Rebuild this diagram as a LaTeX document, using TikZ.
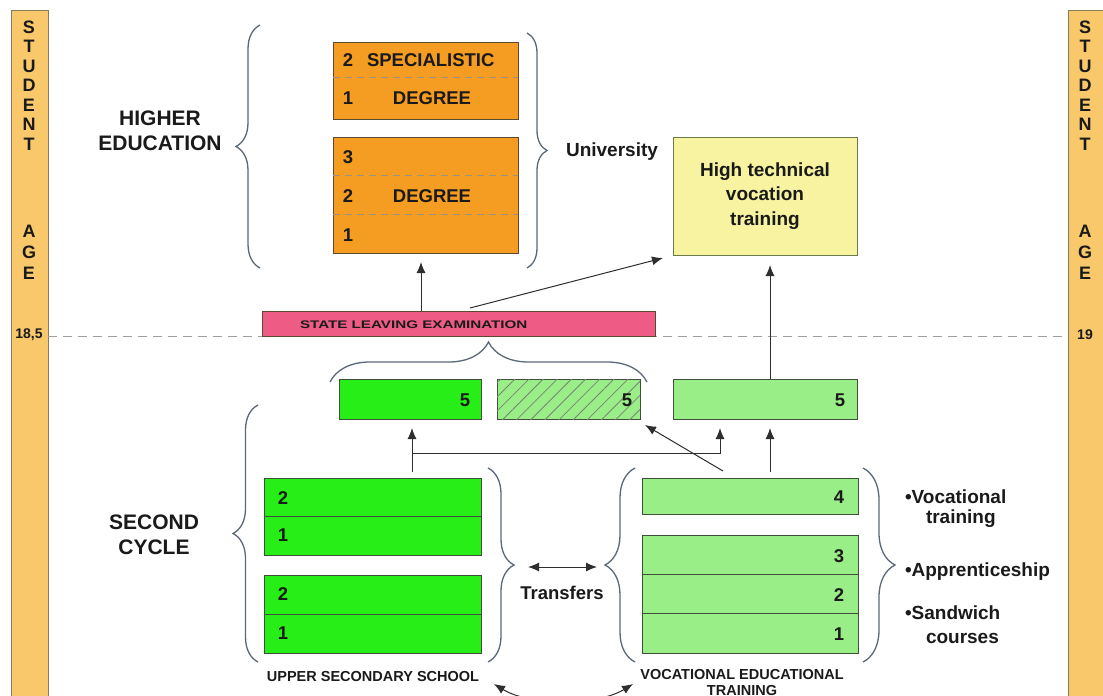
\documentclass[tikz,border=0pt]{standalone}
\usepackage{graphicx}
\usepackage{fontspec}
\setmainfont{Liberation Sans}
\usetikzlibrary{decorations.pathreplacing,patterns.meta,arrows.meta,calc}
\definecolor{agefill}{HTML}{F8C86A}
\definecolor{ageline}{HTML}{857A62}
\definecolor{orangefill}{HTML}{F49D22}
\definecolor{odraw}{HTML}{5A4A30}
\definecolor{yellowfill}{HTML}{F7F3A0}
\definecolor{ydraw}{HTML}{6B7A4A}
\definecolor{pinkfill}{HTML}{EE5C86}
\definecolor{brightgreen}{HTML}{27EE16}
\definecolor{lightgreen}{HTML}{99EE88}
\definecolor{boxline}{HTML}{3F4F3A}
\definecolor{bracecol}{HTML}{5A6878}
\definecolor{ink}{HTML}{1A1A1A}
\definecolor{arrowcol}{HTML}{2E2E2E}
\begin{document}
\begin{tikzpicture}[x=1pt,y=-1pt,
  lbl/.style={inner sep=0pt, outer sep=0pt, text=ink, font=\bfseries\fontsize{18.5}{22}\selectfont},
  agetxt/.style={lbl, font=\bfseries\fontsize{18}{20}\selectfont},
  head/.style={lbl, align=center, font=\bfseries\fontsize{21}{25}\selectfont},
  txt/.style={lbl, font=\bfseries\fontsize{19}{24.5}\selectfont},
  small/.style={lbl, font=\bfseries\fontsize{14.5}{16}\selectfont},
  box/.style={draw=boxline, line width=0.9pt, inner sep=0pt, outer sep=0pt},
  agebar/.style={box, draw=ageline, fill=agefill},
  obox/.style={box, draw=odraw, fill=orangefill},
  gbright/.style={box, fill=brightgreen},
  glight/.style={box, fill=lightgreen},
  hatched/.style={glight, postaction={pattern={Lines[angle=45,distance=10pt,line width=0.8pt]}, pattern color=boxline!70}},
  odiv/.style={draw=odraw!60, dash pattern=on 7pt off 5pt, line width=0.8pt},
  gdiv/.style={draw=boxline, line width=0.9pt},
  brc/.style={decorate, draw=bracecol, line width=1.3pt},
  arr/.style={draw=arrowcol, line width=1pt, -{Latex[length=11pt,width=9pt]}},
  darr/.style={draw=arrowcol, line width=1pt, {Latex[length=11pt,width=9pt]}-{Latex[length=11pt,width=9pt]}},
  guide/.style={draw=gray!75, line width=0.8pt, dash pattern=on 9pt off 6pt},
]
\useasboundingbox (0,0) rectangle (1103,696);
\clip (0,0) rectangle (1103,696);
\fill[white] (0,0) rectangle (1103,696);

% age bars
\node[agebar, minimum width=37pt, minimum height=700pt, anchor=north west] (lbar) at (11,10) {};
\node[agebar, minimum width=36pt, minimum height=700pt, anchor=north west] (rbar) at (1068,10) {};
\foreach \l [count=\i] in {S,T,U,D,E,N,T} {
  \node[agetxt] (ls\i) at (29, 7.5+19.5*\i) {\l};
  \node[agetxt] (rs\i) at (1085, 7.5+19.5*\i) {\l};
}
\foreach \l [count=\i] in {A,G,E} {
  \node[agetxt] (la\i) at (29, 210+21*\i) {\l};
  \node[agetxt] (ra\i) at (1085, 210+21*\i) {\l};
}
\node[lbl, font=\bfseries\fontsize{14}{16}\selectfont] (l185) at (29,335) {18,5};
\node[lbl, font=\bfseries\fontsize{14}{16}\selectfont] (r19) at (1085,335) {19};

% higher education
\node[head] (he) at (160,131) {HIGHER\\EDUCATION};
\node[obox, minimum width=185pt, minimum height=77pt] (spec) at (425.5,80.5) {};
\node[obox, minimum width=185pt, minimum height=116pt] (deg) at (425.5,195) {};
\draw[odiv] ($(spec.west)+(0,-3)$) -- ($(spec.east)+(0,-3)$);
\draw[odiv] ($(deg.north west)!1/3!(deg.south west)$) -- ($(deg.north east)!1/3!(deg.south east)$);
\draw[odiv] ($(deg.north west)!2/3!(deg.south west)$) -- ($(deg.north east)!2/3!(deg.south east)$);
\node[lbl] (s2) at (348,60) {2};
\node[lbl, anchor=west] (st) at (367,60) {SPECIALISTIC};
\node[lbl] (s1) at (348,98) {1};
\node[lbl] (sd) at (432,98) {DEGREE};
\node[lbl] (d3) at (348,157) {3};
\node[lbl] (d2) at (348,196) {2};
\node[lbl] (dd) at (432,196) {DEGREE};
\node[lbl] (d1) at (348,235) {1};
\draw[brc, decoration={brace, amplitude=24pt}] (260,268) -- (260,25);
\draw[brc, decoration={brace, amplitude=20pt}] (527,33) -- (527,268);
\node[txt, anchor=base] (uni) at (612,156.5) {University};
\node[box, draw=ydraw, fill=yellowfill, minimum width=184pt, minimum height=118pt, txt, align=center] (hvt) at (765,196) {High technical\\vocation\\training};

% exam and threshold
\draw[guide] (lbar.east |- 0,336) -- (rbar.west |- 0,336);
\node[box, draw=odraw, fill=pinkfill, minimum width=393pt, minimum height=25pt] (exam) at (459,324) {};
\node[lbl, anchor=west, font=\bfseries\fontsize{11}{13}\selectfont, text=ink] (examtxt) at (300,325) {\scalebox{1.38}[1]{STATE LEAVING EXAMINATION}};
\coordinate (ed) at (421,311);
\draw[arr, shorten >=9pt] (ed) -- (ed |- deg.south);
\coordinate (ey) at (470,308);
\draw[arr] (ey) -- ($(hvt.south west)+(-10,3)$);
\draw[brc, decoration={brace, amplitude=40pt}] (330,382) -- (647,382);

% fifth year row
\node[gbright, minimum width=142pt, minimum height=40pt] (g5a) at (410,399) {};
\node[hatched, minimum width=143pt, minimum height=40pt] (g5b) at (568.5,399) {};
\node[glight, minimum width=184pt, minimum height=40pt] (g5c) at (765,399) {};
\node[lbl] (n5a) at (465,400) {5};
\node[lbl] (n5b) at (627,400) {5};
\node[lbl] (n5c) at (840,400) {5};
\coordinate (va) at (770,472);
\draw[arr, shorten >=10pt] (g5c.north -| va) -- (va |- hvt.south);

% second cycle
\node[head] (sc) at (154,535) {SECOND\\CYCLE};
\draw[brc, decoration={brace, amplitude=25pt}] (258,662) -- (258,405);
\node[gbright, minimum width=217pt, minimum height=77pt] (u1) at (373,516.5) {};
\draw[gdiv] (u1.west) -- (u1.east);
\node[gbright, minimum width=217pt, minimum height=78pt] (u2) at (373,614) {};
\draw[gdiv] (u2.west) -- (u2.east);
\node[lbl] (u12) at (283,498) {2};
\node[lbl] (u11) at (283,535) {1};
\node[lbl] (u22) at (283,594) {2};
\node[lbl] (u21) at (283,633) {1};
\draw[brc, decoration={brace, amplitude=26pt}] (488,468) -- (488,662);
\node[small] (uss) at (373,677) {UPPER SECONDARY SCHOOL};

\node[glight, minimum width=216pt, minimum height=36pt] (v4) at (750,496.5) {};
\node[glight, minimum width=216pt, minimum height=118pt] (v3) at (750,594) {};
\draw[gdiv] ($(v3.north west)!1/3!(v3.south west)$) -- ($(v3.north east)!1/3!(v3.south east)$);
\draw[gdiv] ($(v3.north west)!2/3!(v3.south west)$) -- ($(v3.north east)!2/3!(v3.south east)$);
\node[lbl] (v4n) at (839,497) {4};
\node[lbl] (v3n) at (839,556) {3};
\node[lbl] (v2n) at (839,595) {2};
\node[lbl] (v1n) at (839,634) {1};
\draw[brc, decoration={brace, amplitude=30pt}] (635,662) -- (635,468);
\draw[brc, decoration={brace, amplitude=32pt}] (863,468) -- (863,662);
\node[small, align=center] (vet) at (742,682) {VOCATIONAL EDUCATIONAL\\TRAINING};

\node[txt, anchor=base west] (b1) at (905,503.5) {•Vocational};
\node[txt, anchor=base west] (b1b) at (926,523.5) {training};
\node[txt, anchor=base west] (b2) at (905,576) {•Apprenticeship};
\node[txt, anchor=base west] (b3) at (905,619.5) {•Sandwich};
\node[txt, anchor=base west] (b3b) at (926,643) {courses};

% transfers
\coordinate (tl) at (528,567);
\coordinate (tr) at (597,567);
\draw[darr] (tl) -- (tr);
\node[lbl] (tf) at (562,593) {Transfers};

% arrows between cycles
\coordinate (ua) at (412,472);
\coordinate (hj) at (720,453);
\draw[arr, shorten >=9pt] (ua) -- (ua |- g5a.south);
\draw[arr, shorten >=9pt] (ua |- hj) -- (hj) -- (hj |- g5c.south);
\draw[arr, shorten >=9pt] (va) -- (va |- g5c.south);
\coordinate (vd) at (723,471);
\draw[arr] (vd) -- ($(g5b.south east)+(5,6)$);

% bottom transfers
\coordinate (bl) at (494,684);
\coordinate (br) at (633,684);
\draw[darr] (bl) .. controls (530,706) and (597,706) .. (br);
\end{tikzpicture}
\end{document}
